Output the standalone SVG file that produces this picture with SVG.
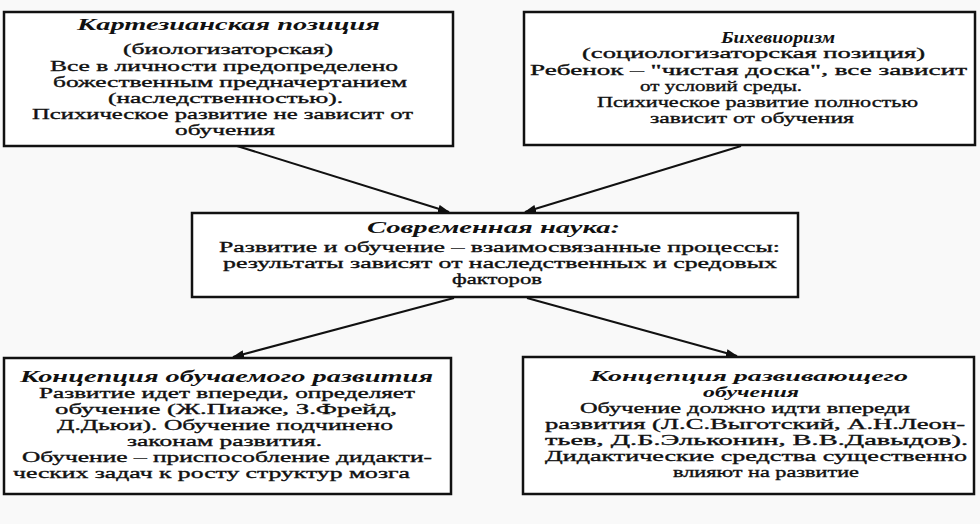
<svg xmlns="http://www.w3.org/2000/svg" width="980" height="524" viewBox="0 0 980 524">
<defs>
<marker id="ah" markerUnits="userSpaceOnUse" markerWidth="12" markerHeight="8" refX="11" refY="4" orient="auto">
<path d="M0,0 L12,4 L0,8 z" fill="#111"/>
</marker>
<style>
.box{fill:#fff;stroke:#111;stroke-width:2.5}
.t{font-family:"Liberation Serif","DejaVu Serif",serif;font-size:15px;fill:#111;stroke:#111;stroke-width:0.35}
.h{font-family:"Liberation Serif","DejaVu Serif",serif;font-size:16px;font-weight:bold;font-style:italic;fill:#111}
.hs{font-size:15px}
.c{fill:none;stroke:#111;stroke-width:2;marker-end:url(#ah)}
</style>
</defs>
<rect width="980" height="524" fill="#f9f9f9"/>
<g id="connectors">
<line class="c" x1="237" y1="146" x2="449" y2="212"/>
<line class="c" x1="741" y1="146" x2="525" y2="212"/>
<line class="c" x1="454" y1="298" x2="233" y2="357"/>
<line class="c" x1="527" y1="298" x2="737" y2="356"/>
</g>
<g id="cartesian">
<rect class="box" x="4" y="12" width="449" height="134"/>
<text class="h" x="77" y="30" textLength="303" lengthAdjust="spacingAndGlyphs">Картезианская позиция</text>
<text class="t" x="123" y="54" textLength="210" lengthAdjust="spacingAndGlyphs">(биологизаторская)</text>
<text class="t" x="50" y="71" textLength="348" lengthAdjust="spacingAndGlyphs">Все в личности предопределено</text>
<text class="t" x="53" y="87" textLength="354" lengthAdjust="spacingAndGlyphs">божественным предначертанием</text>
<text class="t" x="108" y="103" textLength="235" lengthAdjust="spacingAndGlyphs">(наследственностью).</text>
<text class="t" x="32" y="119" textLength="381" lengthAdjust="spacingAndGlyphs">Психическое развитие не зависит от</text>
<text class="t" x="175" y="135" textLength="100" lengthAdjust="spacingAndGlyphs">обучения</text>
</g>
<g id="behaviorism">
<rect class="box" x="524" y="12" width="451" height="133"/>
<text class="h" x="721" y="43" textLength="114" lengthAdjust="spacingAndGlyphs">Бихевиоризм</text>
<text class="t" x="582" y="58" textLength="343" lengthAdjust="spacingAndGlyphs">(социологизаторская позиция)</text>
<text class="t" x="530" y="75" textLength="437" lengthAdjust="spacingAndGlyphs">Ребенок – "чистая доска", все зависит</text>
<text class="t" x="640" y="91" textLength="162" lengthAdjust="spacingAndGlyphs">от условий среды.</text>
<text class="t" x="597" y="107" textLength="321" lengthAdjust="spacingAndGlyphs">Психическое развитие полностью</text>
<text class="t" x="650" y="123" textLength="204" lengthAdjust="spacingAndGlyphs">зависит от обучения</text>
</g>
<g id="modern">
<rect class="box" x="192" y="213" width="606" height="84"/>
<text class="h" x="367" y="233" textLength="253" lengthAdjust="spacingAndGlyphs">Современная наука:</text>
<text class="t" x="219" y="252" textLength="561" lengthAdjust="spacingAndGlyphs">Развитие и обучение – взаимосвязанные процессы:</text>
<text class="t" x="223" y="268" textLength="554" lengthAdjust="spacingAndGlyphs">результаты зависят от наследственных и средовых</text>
<text class="t" x="452" y="284" textLength="90" lengthAdjust="spacingAndGlyphs">факторов</text>
</g>
<g id="learned">
<rect class="box" x="4" y="358" width="447" height="136"/>
<text class="h" x="20" y="382" textLength="413" lengthAdjust="spacingAndGlyphs">Концепция обучаемого развития</text>
<text class="t" x="39" y="398" textLength="376" lengthAdjust="spacingAndGlyphs">Развитие идет впереди, определяет</text>
<text class="t" x="55" y="414" textLength="342" lengthAdjust="spacingAndGlyphs">обучение (Ж.Пиаже, З.Фрейд,</text>
<text class="t" x="57" y="430" textLength="336" lengthAdjust="spacingAndGlyphs">Д.Дьюи). Обучение подчинено</text>
<text class="t" x="127" y="446" textLength="195" lengthAdjust="spacingAndGlyphs">законам развития.</text>
<text class="t" x="22" y="462" textLength="410" lengthAdjust="spacingAndGlyphs">Обучение – приспособление дидакти-</text>
<text class="t" x="13" y="478" textLength="397" lengthAdjust="spacingAndGlyphs">ческих задач к росту структур мозга</text>
</g>
<g id="developing">
<rect class="box" x="523" y="357" width="451" height="137"/>
<text class="h hs" x="590" y="381" textLength="318" lengthAdjust="spacingAndGlyphs">Концепция развивающего</text>
<text class="h hs" x="703" y="397" textLength="96" lengthAdjust="spacingAndGlyphs">обучения</text>
<text class="t" x="580" y="413" textLength="330" lengthAdjust="spacingAndGlyphs">Обучение должно идти впереди</text>
<text class="t" x="545" y="429" textLength="420" lengthAdjust="spacingAndGlyphs">развития (Л.С.Выготский, А.Н.Леон-</text>
<text class="t" x="545" y="445" textLength="423" lengthAdjust="spacingAndGlyphs">тьев, Д.Б.Эльконин, В.В.Давыдов).</text>
<text class="t" x="545" y="461" textLength="422" lengthAdjust="spacingAndGlyphs">Дидактические средства существенно</text>
<text class="t" x="673" y="477" textLength="186" lengthAdjust="spacingAndGlyphs">влияют на развитие</text>
</g>
</svg>
